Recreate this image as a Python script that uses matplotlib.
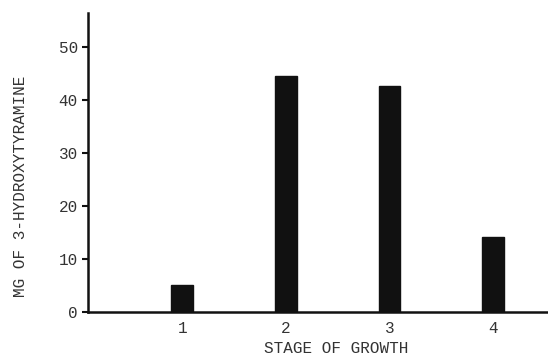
import matplotlib.pyplot as plt

# values
stages = [1, 2, 3, 4]
stage_labels = ['1', '2', '3', '4']
mg_values = [5.1, 44.5, 42.6, 14.2]
y_ticks = [0, 10, 20, 30, 40, 50]

ink = '#111111'
font = ['Liberation Mono', 'DejaVu Sans Mono']

fig = plt.figure(figsize=(5.48, 3.58), dpi=100)
ax = fig.add_axes([0.161, 0.128, 0.839, 0.835])

ax.bar(stages, mg_values, width=0.21, color=ink, edgecolor=ink)

ax.set_xlim(0.094, 4.53)
ax.set_ylim(0, 56.4)

ax.set_yticks(y_ticks)
ax.set_yticklabels([str(v) for v in y_ticks], family=font, fontsize=11.5, color='#333333')
ax.set_xticks(stages)
ax.set_xticklabels(stage_labels, family=font, fontsize=11.5, color='#333333')

ax.tick_params(axis='y', direction='out', length=4.5, width=1.5, color=ink, pad=3)
ax.tick_params(axis='x', length=0, pad=6)

for side in ['top', 'right']:
    ax.spines[side].set_visible(False)
for side in ['left', 'bottom']:
    ax.spines[side].set_linewidth(1.8)
    ax.spines[side].set_color(ink)

ax.set_ylabel('MG OF 3-HYDROXYTYRAMINE', family=font, fontsize=11.5, color='#333333')
ax.yaxis.set_label_coords(-0.148, 0.42)
ax.yaxis.label.set_verticalalignment('center')

ax.set_xlabel('STAGE OF GROWTH', family=font, fontsize=11.5, color='#333333')
ax.xaxis.set_label_coords(0.54, -0.122)
ax.xaxis.label.set_verticalalignment('center')

fig.savefig('out.png', dpi=100)
